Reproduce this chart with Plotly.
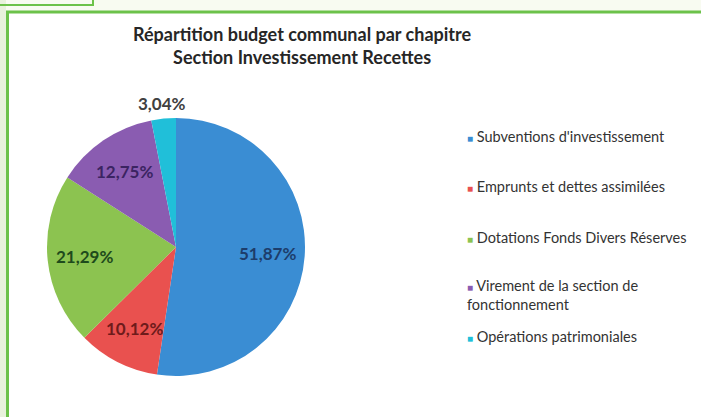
import math

import plotly.graph_objects as go

# ── Données ────────────────────────────────────────────────────────────────
chapitres = [
    "Subventions d'investissement",
    "Emprunts et dettes assimilées",
    "Dotations Fonds Divers Réserves",
    "Virement de la section de<br>fonctionnement",
    "Opérations patrimoniales",
]
parts = [51.87, 10.12, 21.29, 12.75, 3.04]
etiquettes = ["51,87%", "10,12%", "21,29%", "12,75%", "3,04%"]

couleurs = ["#3a8dd3", "#e9514f", "#8cc350", "#8a5cb1", "#20bfd9"]
couleurs_texte = ["#1d3d6b", "#6e1b1b", "#1e4a1c", "#3b2462", "#404040"]
etiquette_dehors = [False, False, False, False, True]

VERT = "#6cc24a"
FONT = "Lato, Calibri, sans-serif"

# ── Géométrie de la figure ─────────────────────────────────────────────────
W, H = 701, 417
cx, cy, r = 176, 247, 129   # centre et rayon du camembert, en pixels


def px(x, y):
    """pixels (origine en haut à gauche) -> coordonnées paper"""
    return x / W, 1 - y / H


fig = go.Figure()
fig.add_trace(go.Pie(
    labels=chapitres,
    values=parts,
    textinfo="none",
    marker=dict(colors=couleurs, line=dict(width=0)),
    sort=False,
    direction="clockwise",
    rotation=0,
    showlegend=False,
    hoverinfo="label+percent",
    domain=dict(
        x=[(cx - r) / W, (cx + r) / W],
        y=[(H - cy - r) / H, (H - cy + r) / H],
    ),
))

annotations = []

# titre
tx, ty = px(302, 45)
annotations.append(dict(
    text="<b>Répartition budget communal par chapitre<br>Section Investissement Recettes</b>",
    x=tx, y=ty, xref="paper", yref="paper", xanchor="center", yanchor="middle",
    showarrow=False, font=dict(family=FONT, size=18, color="#262626"), align="center",
))

# étiquettes de données, placées sur l'angle médian de chaque part (à la Excel)
total = sum(parts)
cumul = 0.0
for val, txt, coul, dehors in zip(parts, etiquettes, couleurs_texte, etiquette_dehors):
    milieu = (cumul + val / 2) / total * 2 * math.pi
    cumul += val
    f = 1.12 if dehors else 0.71
    lx, ly = px(cx + f * r * math.sin(milieu), cy - f * r * math.cos(milieu))
    annotations.append(dict(
        text=f"<b>{txt}</b>", x=lx, y=ly, xref="paper", yref="paper",
        xanchor="center", yanchor="middle",
        showarrow=False, font=dict(family=FONT, size=17, color=coul),
    ))

# légende dessinée à la main (espacement à la Excel)
legende_y = [137, 186, 237, 295, 336]
for nom, coul, y in zip(chapitres, couleurs, legende_y):
    lx, ly = px(465, y)
    annotations.append(dict(
        text=f"<span style='color:{coul};font-size:10px'>■</span> {nom}",
        x=lx, y=ly, xref="paper", yref="paper",
        xanchor="left", yanchor="middle", align="left",
        showarrow=False, font=dict(family=FONT, size=14.5, color="#333333"),
    ))

shapes = [
    # bandeau clair au-dessus et à gauche du cadre
    dict(type="rect", xref="paper", yref="paper", x0=0, x1=1, y0=1 - 11 / H, y1=1,
         fillcolor="#f8fbf1", line=dict(width=0), layer="below"),
    dict(type="rect", xref="paper", yref="paper", x0=0, x1=6 / W, y0=0, y1=1,
         fillcolor="#e8f2dc", line=dict(width=0), layer="below"),
    # petit cadre en haut à gauche
    dict(type="rect", xref="paper", yref="paper", x0=-0.01, x1=93 / W, y0=1 - 5 / H, y1=1.01,
         line=dict(color=VERT, width=2)),
    # cadre principal (haut + gauche)
    dict(type="line", xref="paper", yref="paper", x0=6 / W, x1=1, y0=1 - 12 / H, y1=1 - 12 / H,
         line=dict(color=VERT, width=3)),
    dict(type="line", xref="paper", yref="paper", x0=7.5 / W, x1=7.5 / W, y0=0, y1=1 - 12 / H,
         line=dict(color=VERT, width=3)),
]

fig.update_layout(
    width=W,
    height=H,
    margin=dict(l=0, r=0, t=0, b=0),
    paper_bgcolor="white",
    plot_bgcolor="white",
    font=dict(family=FONT),
    annotations=annotations,
    shapes=shapes,
)

# pas de marge autour du graphique dans la page, pas de barre d'outils
fig.write_html(
    "out.html",
    config={"displayModeBar": False},
    post_script="document.body.style.margin='0px';document.body.style.overflow='hidden';",
)
